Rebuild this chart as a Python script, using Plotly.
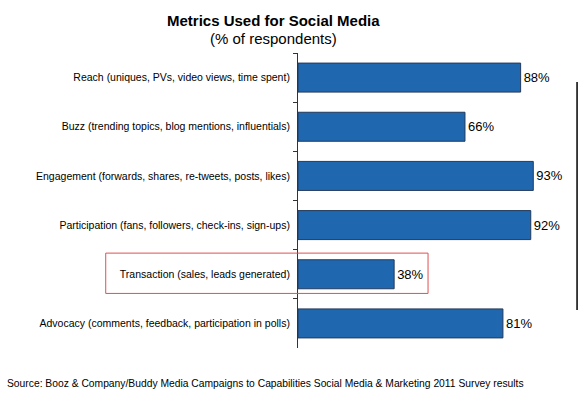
import plotly.graph_objects as go

# Survey data
metrics = [
    "Reach (uniques, PVs, video views, time spent)",
    "Buzz (trending topics, blog mentions, influentials)",
    "Engagement (forwards, shares, re-tweets, posts, likes)",
    "Participation (fans, followers, check-ins, sign-ups)",
    "Transaction (sales, leads generated)",
    "Advocacy (comments, feedback, participation in polls)",
]
percents = [88, 66, 93, 92, 38, 81]
highlighted = "Transaction (sales, leads generated)"

source = ("Source: Booz & Company/Buddy Media Campaigns to Capabilities "
          "Social Media & Marketing 2011 Survey results")

fig = go.Figure(go.Bar(
    x=percents,
    y=metrics,
    orientation="h",
    marker=dict(color="#1f68b0", line=dict(color="#233a5c", width=1)),
    text=[f"{p}%" for p in percents],
    textposition="outside",
    textfont=dict(size=13, color="black"),
    cliponaxis=False,
))

fig.update_layout(
    width=579,
    height=404,
    margin=dict(l=298, r=28, t=53, b=56, autoexpand=False),
    paper_bgcolor="white",
    plot_bgcolor="white",
    font=dict(family="Liberation Sans, Arial, sans-serif", color="black"),
    bargap=0.41,
    showlegend=False,
    xaxis=dict(range=[0, 100], visible=False),
    yaxis=dict(
        autorange="reversed",
        automargin=False,
        showline=True,
        linecolor="#333",
        linewidth=1,
        ticks="outside",
        tickson="boundaries",
        ticklen=4,
        tickcolor="#333",
        tickfont=dict(size=10.5),
        ticklabelstandoff=5,
    ),
)

# Titles
fig.add_annotation(text="<b>Metrics Used for Social Media</b>", xref="paper", yref="paper",
                   x=-0.095, y=1, yshift=33, xanchor="center", yanchor="middle",
                   showarrow=False, font=dict(size=15))
fig.add_annotation(text="(% of respondents)", xref="paper", yref="paper",
                   x=-0.095, y=1, yshift=15, xanchor="center", yanchor="middle",
                   showarrow=False, font=dict(size=15))
fig.add_annotation(text=source, xref="paper", yref="paper", x=-1.16, y=0,
                   xanchor="left", yshift=-43, showarrow=False, font=dict(size=10.3))

# Red highlight box around the transaction row
row = metrics.index(highlighted)
fig.add_shape(type="rect", xref="paper", yref="y", x0=-0.76, x1=0.514,
              y0=row - 0.43, y1=row + 0.39, line=dict(color="#e05050", width=1))

# Stray vertical line on the right edge
fig.add_shape(type="line", xref="paper", yref="paper", x0=1.103, x1=1.103,
              y0=0.129, y1=0.902, line=dict(color="black", width=1.5))

# drop the default page margin so the figure fills the window
fig.write_html("out.html",
               config={"displayModeBar": False},
               post_script="document.body.style.margin='0';"
                           "document.body.style.overflow='hidden';")
